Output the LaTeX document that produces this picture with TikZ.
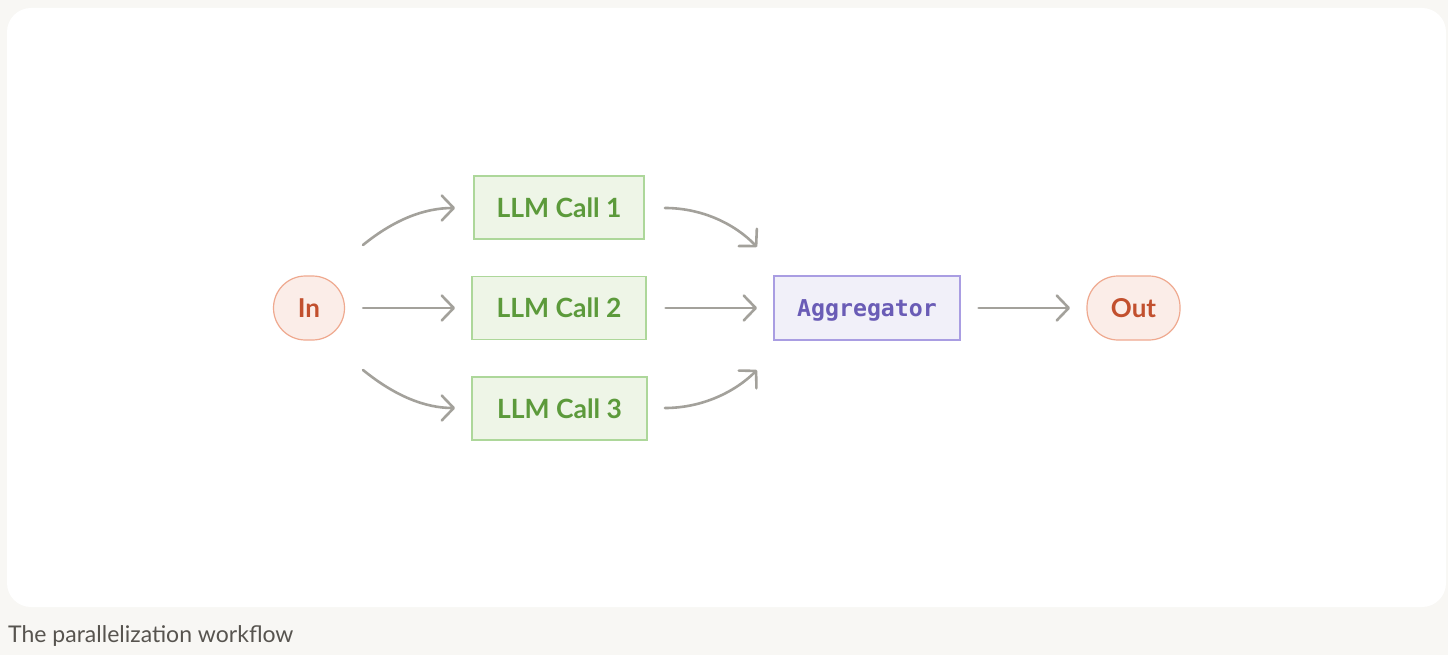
\documentclass[tikz,border=0pt]{standalone}
\usepackage{fontspec}
\setmainfont{Lato}
\newfontfamily\monof{DejaVu Sans Mono}
\usetikzlibrary{arrows.meta}
\definecolor{pagebg}{HTML}{F8F7F4}
\definecolor{arrowc}{HTML}{A3A19B}
\definecolor{iofill}{HTML}{FBEDE8}
\definecolor{iodraw}{HTML}{EFA98F}
\definecolor{iotext}{HTML}{C2502E}
\definecolor{llmfill}{HTML}{EEF5E7}
\definecolor{llmdraw}{HTML}{ADD79A}
\definecolor{llmtext}{HTML}{5C9A3B}
\definecolor{aggfill}{HTML}{F1F0F9}
\definecolor{aggdraw}{HTML}{A99DE2}
\definecolor{aggtext}{HTML}{6A5CB6}
\definecolor{captext}{HTML}{57544F}
\tikzset{
  iobox/.style={draw=iodraw, fill=iofill, line width=1.2pt, rounded corners=31pt, minimum height=64pt, text=iotext, font=\fontsize{26}{28}\selectfont\bfseries, inner sep=0pt},
  llmbox/.style={draw=llmdraw, fill=llmfill, line width=1.2pt, minimum height=63pt, text=llmtext, font=\fontsize{26.5}{28}\selectfont\bfseries, inner sep=0pt},
  aggbox/.style={draw=aggdraw, fill=aggfill, line width=1.2pt, minimum width=186pt, minimum height=64pt, text=aggtext, font=\fontsize{23.2}{26}\monof\bfseries, inner sep=0pt, text height=20pt, text depth=3pt},
  conn/.style={draw=arrowc, line width=2.6pt, line cap=round, -{Straight Barb[length=12pt,width=25pt,line cap=round,line join=round]}}
}
\begin{document}
\begin{tikzpicture}[x=1pt,y=-1pt]
\useasboundingbox (0,0) rectangle (1448,655);
\fill[pagebg] (0,0) rectangle (1448,655);
\fill[white, rounded corners=24pt] (7,8) rectangle (1446,607);
\node[iobox, minimum width=71pt, rounded corners=32pt] (in) at (309,308) {In};
\node[llmbox, minimum width=170pt] (l1) at (559,207.5) {LLM Call 1};
\node[llmbox, minimum width=174pt] (l2) at (559,308) {LLM Call 2};
\node[llmbox, minimum width=175pt] (l3) at (559.5,408.5) {LLM Call 3};
\node[aggbox] (agg) at (867,308) {Aggregator};
\node[iobox, minimum width=93pt] (out) at (1133.5,308) {Out};
\node[anchor=base west, text=captext, font=\fontsize{23}{26}\selectfont, inner sep=0pt] (cap) at (8,642) {The parallelization workflow};
% free ends
\coordinate (a1s) at (363,245);
\coordinate (a1e) at (455,208);
\coordinate (a3s) at (363,370);
\coordinate (a3e) at (455,408);
\coordinate (b1s) at (665,208);
\coordinate (b1e) at (757,247);
\coordinate (b3s) at (665,408);
\coordinate (b3e) at (757,370);
\draw[conn] (a1s) .. controls (395,219) and (425,208) .. (a1e);
\draw[conn] (in.east) ++(18,0) coordinate (a2s) -- (455,308) coordinate (a2e);
\draw[conn] (a3s) .. controls (395,396) and (425,408) .. (a3e);
\draw[conn] (b1s) .. controls (702,208) and (735,224) .. (b1e);
\draw[conn] (l2.east) ++(19,0) coordinate (b2s) -- (757,308) coordinate (b2e);
\draw[conn] (b3s) .. controls (702,408) and (735,392) .. (b3e);
\draw[conn] (agg.east) ++(18,0) coordinate (c1s) -- (1070,308) coordinate (c1e);
\end{tikzpicture}
\end{document}
